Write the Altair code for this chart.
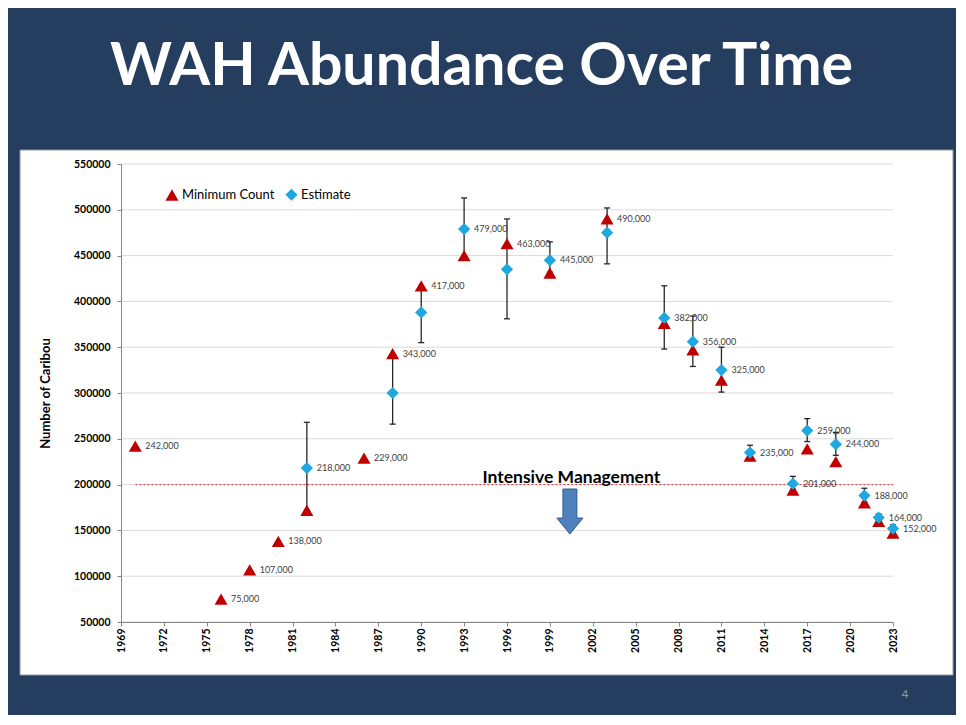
import altair as alt
import pandas as pd

title_text = "WAH Abundance Over Time"
slide_number = "4"

# Minimum counts (red triangles)
min_years = [1970, 1976, 1978, 1980, 1982, 1986, 1988, 1990, 1993, 1996, 1999, 2003,
             2007, 2009, 2011, 2013, 2016, 2017, 2019, 2021, 2022, 2023]
min_counts = [242000, 75000, 107000, 138000, 172000, 229000, 343000, 417000, 450000, 463000, 431000, 490000,
              376000, 347000, 314000, 231000, 194000, 239000, 225000, 180000, 160000, 147000]

# Estimates (blue diamonds) with error bars
est_years = [1982, 1988, 1990, 1993, 1996, 1999, 2003, 2007, 2009, 2011, 2013, 2016, 2017, 2019, 2021, 2022, 2023]
estimates = [218000, 300000, 388000, 479000, 435000, 445000, 475000, 382000, 356000, 325000, 235000, 201000,
             259000, 244000, 188000, 164000, 152000]
est_low = [172000, 266000, 355000, 449000, 381000, 432000, 441000, 348000, 329000, 301000, 231000, 195000,
           247000, 232000, 181000, 160000, 148000]
est_high = [268000, 338000, 415000, 513000, 490000, 465000, 502000, 417000, 384000, 350000, 243000, 209000,
            272000, 257000, 196000, 168000, 156000]

# Data labels
label_years = [1970, 1976, 1978, 1980, 1982, 1986, 1988, 1990, 1993, 1996, 1999, 2003,
               2007, 2009, 2011, 2013, 2016, 2017, 2019, 2021, 2022, 2023]
label_values = [242000, 75000, 107000, 138000, 218000, 229000, 343000, 417000, 479000, 463000, 445000, 490000,
                382000, 356000, 325000, 235000, 201000, 259000, 244000, 188000, 164000, 152000]

x_ticks = [1969, 1972, 1975, 1978, 1981, 1984, 1987, 1990, 1993, 1996, 1999, 2002, 2005, 2008,
           2011, 2014, 2017, 2020, 2023]
y_ticks = [50000, 100000, 150000, 200000, 250000, 300000, 350000, 400000, 450000, 500000, 550000]

mgmt_value = 200000
mgmt_start = 1970
mgmt_end = 2023
mgmt_label = "Intensive Management"
mgmt_label_year = 2000.5
mgmt_label_value = 207500
arrow_year = 2000.4
arrow_value = 170600

series_names = ["Minimum Count", "Estimate"]
series_colors = ["#C00000", "#1FA8E0"]

FONT = "Lato"

points = pd.DataFrame({
    "year": min_years + est_years,
    "value": min_counts + estimates,
    "series": [series_names[0]] * len(min_years) + [series_names[1]] * len(est_years),
})
errs = pd.DataFrame({"year": est_years, "lo": est_low, "hi": est_high})
labels = pd.DataFrame({"year": label_years, "value": label_values})
grid = pd.DataFrame({"value": y_ticks, "x0": [x_ticks[0]] * len(y_ticks), "x1": [x_ticks[-1]] * len(y_ticks)})
mgmt = pd.DataFrame({"x0": [mgmt_start], "x1": [mgmt_end], "value": [mgmt_value]})
mgmt_txt = pd.DataFrame({"year": [mgmt_label_year], "value": [mgmt_label_value], "t": [mgmt_label]})
arrow = pd.DataFrame({"year": [arrow_year], "value": [arrow_value]})
one = pd.DataFrame({"t": [title_text], "n": [slide_number]})

xscale = alt.Scale(domain=[1969, 2023], nice=False, zero=False)
yscale = alt.Scale(domain=[50000, 550000], nice=False, zero=False)

x_axis = alt.Axis(values=x_ticks, format="d", labelAngle=270, labelFont=FONT, labelFontWeight="bold",
                  labelFontSize=10.5, labelColor="black", tickColor="#868686", domainColor="#868686",
                  tickSize=4, grid=False, title=None, zindex=1, labelPadding=2,
                  labelFlush=False, labelOverlap=False)
y_axis = alt.Axis(values=y_ticks, format="d", labelFont=FONT, labelFontWeight="bold", labelFontSize=10.5,
                  labelColor="black", tickColor="#868686", domainColor="#868686", tickSize=4,
                  grid=False, title="Number of Caribou", titleFont=FONT, titleFontWeight="bold",
                  titleFontSize=13, titleColor="black", titlePadding=21, zindex=1,
                  labelFlush=False, labelOverlap=False, labelPadding=7)


def X(field):
    return alt.X(field, type="quantitative", scale=xscale, axis=x_axis)


def Y(field):
    return alt.Y(field, type="quantitative", scale=yscale, axis=y_axis)


panel = alt.Chart(one).mark_rect(fill="white", stroke="#8F96A0", strokeWidth=1).encode(
    x=alt.value(-101), x2=alt.value(832), y=alt.value(-14), y2=alt.value(511)
)

title = alt.Chart(one).mark_text(font=FONT, fontWeight="bold", fontSize=59, color="white",
                                 align="center", baseline="alphabetic").encode(
    text="t:N", x=alt.value(360.5), y=alt.value(-79)
)

slide_no = alt.Chart(one).mark_text(font=FONT, fontSize=12, color="#8C9BB0",
                                    align="center", baseline="middle").encode(
    text="n:N", x=alt.value(784), y=alt.value(530)
)

grid_layer = alt.Chart(grid).mark_rule(color="#D9D9D9", strokeWidth=1).encode(
    x=X("x0"), x2="x1", y=Y("value")
)

mgmt_line = alt.Chart(mgmt).mark_rule(color="#E8303A", strokeDash=[2, 2], strokeWidth=1).encode(
    x=X("x0"), x2="x1", y=Y("value")
)

err_rule = alt.Chart(errs).mark_rule(color="#262626", strokeWidth=1.3).encode(
    x=X("year"), y=Y("lo"), y2="hi"
)
err_cap_lo = alt.Chart(errs).mark_tick(orient="horizontal", color="#262626", size=6, thickness=1.3,
                                       opacity=1).encode(x=X("year"), y=Y("lo"))
err_cap_hi = alt.Chart(errs).mark_tick(orient="horizontal", color="#262626", size=6, thickness=1.3,
                                       opacity=1).encode(x=X("year"), y=Y("hi"))

legend = alt.Legend(orient="none", legendX=44, legendY=24, direction="horizontal", title=None,
                    labelFont=FONT, labelFontSize=13, labelColor="black", symbolSize=120,
                    columnPadding=10, labelOffset=3, padding=0, zindex=1, symbolStrokeWidth=0)

pts = alt.Chart(points).mark_point(filled=True, opacity=1, strokeWidth=0).encode(
    x=X("year"), y=Y("value"),
    color=alt.Color("series:N", scale=alt.Scale(domain=series_names, range=series_colors), legend=legend),
    shape=alt.Shape("series:N", scale=alt.Scale(domain=series_names, range=["triangle-up", "diamond"]),
                    legend=legend),
    size=alt.Size("series:N", scale=alt.Scale(domain=series_names, range=[170, 150]), legend=None),
)

txt = alt.Chart(labels).mark_text(align="left", baseline="middle", dx=10, font=FONT, fontSize=9,
                                  color="#404040").encode(
    x=X("year"), y=Y("value"), text=alt.Text("value:Q", format=",")
)

mgmt_text = alt.Chart(mgmt_txt).mark_text(font=FONT, fontWeight="bold", fontSize=17.5, color="black",
                                          align="center", baseline="middle").encode(
    x=X("year"), y=Y("value"), text="t:N"
)

arrow_path = "M-0.31,-1L0.31,-1L0.31,0.29L0.58,0.29L0,1L-0.58,0.29L-0.31,0.29Z"
arrow_layer = alt.Chart(arrow).mark_point(shape=arrow_path, filled=True, fill="#4F81BD", stroke="#2E5C94",
                                          strokeWidth=1, size=2025, opacity=1).encode(
    x=X("year"), y=Y("value")
)

chart = alt.layer(
    panel, title, slide_no, grid_layer, mgmt_line, err_rule, err_cap_lo, err_cap_hi,
    pts, txt, mgmt_text, arrow_layer
).properties(
    width=772, height=458,
    padding={"left": 113, "top": 156, "right": 63, "bottom": 93},
    autosize=alt.AutoSizeParams(type="none"),
    background="#253D5E",
).configure_view(stroke=None)

chart.save("out.html", embed_options={"renderer": "svg", "actions": False})
